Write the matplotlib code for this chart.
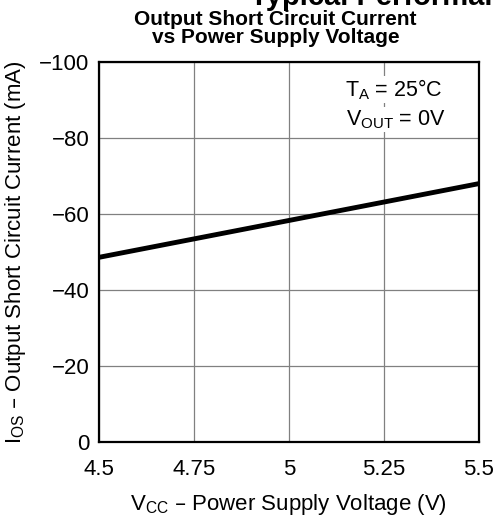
import matplotlib
matplotlib.use("Agg")
import matplotlib.pyplot as plt

plt.rcParams['font.family'] = ['Liberation Sans', 'DejaVu Sans']

vcc = [4.5, 5.5]
ios = [-48.6, -68.0]
x_ticks = [4.5, 4.75, 5, 5.25, 5.5]
x_labels = ['4.5', '4.75', '5', '5.25', '5.5']
y_ticks = [0, -20, -40, -60, -80, -100]
y_labels = ['0', '\u221220', '\u221240', '\u221260', '\u221280', '\u2212100']

fig = plt.figure(figsize=(4.94, 5.18), dpi=100)
ax = fig.add_axes([0.2004, 0.1467, 0.7692, 0.7336])

ax.plot(vcc, ios, color='black', linewidth=3.5, solid_capstyle='butt', zorder=3)

ax.set_xlim(4.5, 5.5)
ax.set_ylim(0, -100)
ax.set_xticks(x_ticks)
ax.set_xticklabels(x_labels)
ax.set_yticks(y_ticks)
ax.set_yticklabels(y_labels)
ax.tick_params(axis='x', length=0, labelsize=16, pad=12)
ax.tick_params(axis='y', length=0, labelsize=16, pad=7)
ax.grid(True, color='#808080', linewidth=0.9)
for s in ax.spines.values():
    s.set_linewidth(1.6)

ax.set_xlabel('V$_{\\mathregular{CC}}$ \u2013 Power Supply Voltage (V)', fontsize=16, labelpad=9)
ax.set_ylabel('I$_{\\mathregular{OS}}$ \u2013 Output Short Circuit Current (mA)', fontsize=16, labelpad=8)

ax.text(0.905, 0.928, 'T$_{\\mathregular{A}}$ = 25\u00b0C', transform=ax.transAxes,
        ha='right', va='center', fontsize=15.5,
        bbox=dict(facecolor='white', edgecolor='none', pad=1))
ax.text(0.912, 0.849, 'V$_{\\mathregular{OUT}}$ = 0V', transform=ax.transAxes,
        ha='right', va='center', fontsize=15.5,
        bbox=dict(facecolor='white', edgecolor='none', pad=1))

fig.text(0.558, 1 - 10 / 518, 'Output Short Circuit Current\nvs Power Supply Voltage',
         ha='center', va='top', fontsize=15, fontweight='bold', linespacing=0.92)
fig.text(0.506, 1 - 5 / 518, 'Typical Performance Characteristics', ha='left', va='baseline',
         fontsize=21, fontweight='bold')

fig.savefig('out.png', dpi=100)
